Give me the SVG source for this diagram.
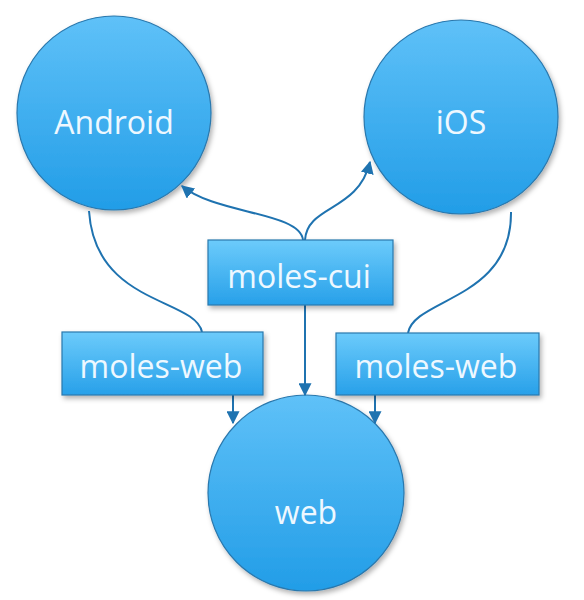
<svg xmlns="http://www.w3.org/2000/svg" width="584" height="600" viewBox="0 0 584 600">
<defs>
<linearGradient id="gc" x1="0" y1="0" x2="0" y2="1">
<stop offset="0" stop-color="#5fc1f8"/>
<stop offset="1" stop-color="#229de7"/>
</linearGradient>
<linearGradient id="gb" x1="0" y1="0" x2="0" y2="1">
<stop offset="0" stop-color="#6ccbfb"/>
<stop offset="1" stop-color="#27a0e9"/>
</linearGradient>
<filter id="sh" x="-20%" y="-20%" width="140%" height="140%">
<feDropShadow dx="2" dy="3" stdDeviation="2.5" flood-color="#000" flood-opacity="0.3"/>
</filter>
<marker id="ah" viewBox="0 0 10 10" refX="9" refY="5" markerWidth="13" markerHeight="13" markerUnits="userSpaceOnUse" orient="auto">
<path d="M0,0 L10,5 L0,10 z" fill="#1f73b0"/>
</marker>
<style>
.node{fill:url(#gc);stroke:#2a78ad;stroke-width:1.2;filter:url(#sh)}
.box{fill:url(#gb);stroke:#2a78ad;stroke-width:1.2;filter:url(#sh)}
.lbl{font-family:"Open Sans","Liberation Sans",sans-serif;font-size:32px;fill:#eef8ff;text-anchor:middle}
.c{fill:none;stroke:#1f73b0;stroke-width:2}
.a{marker-end:url(#ah)}
</style>
</defs>
<g id="android">
<circle class="node" cx="114" cy="113" r="97"/>
<text class="lbl" x="114" y="134">Android</text>
</g>
<g id="ios">
<circle class="node" cx="461" cy="117" r="97"/>
<text class="lbl" x="461" y="134">iOS</text>
</g>
<g id="web">
<circle class="node" cx="306" cy="493" r="98"/>
<text class="lbl" x="306" y="524">web</text>
</g>
<g id="connectors">
<path class="c a" d="M303,240 C300,212 215,214 182,186"/>
<path class="c a" d="M305,240 C307,205 358,212 370,162"/>
<path class="c a" d="M305,305 L305,395"/>
<path class="c" d="M89,211 C95,305 195,298 202,332"/>
<path class="c" d="M511,212 C512,300 414,298 408,333"/>
<path class="c a" d="M233,395 L233,423"/>
<path class="c a" d="M375,395 L375,423"/>
</g>
<g id="moles-cui">
<rect class="box" x="208" y="240" width="185" height="65"/>
<text class="lbl" x="299" y="288">moles-cui</text>
</g>
<g id="moles-web-left">
<rect class="box" x="62" y="332" width="201" height="63"/>
<text class="lbl" x="161" y="378">moles-web</text>
</g>
<g id="moles-web-right">
<rect class="box" x="336" y="333" width="203" height="62"/>
<text class="lbl" x="436" y="378">moles-web</text>
</g>
</svg>
